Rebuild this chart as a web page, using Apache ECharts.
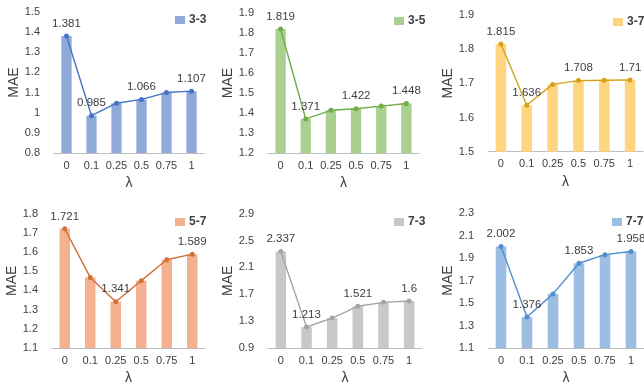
<!DOCTYPE html>
<html>
<head>
<meta charset="utf-8">
<script src="https://cdn.jsdelivr.net/npm/echarts@6/dist/echarts.min.js"></script>
<style>
  html, body { margin: 0; padding: 0; background: #fff; }
  #chart { width: 644px; height: 386px; }
</style>
</head>
<body>
<div id="chart"></div>
<script>
// λ values on the x axis
const lambdas = ['0', '0.1', '0.25', '0.5', '0.75', '1'];

// MAE per setting
const mae33 = [1.381, 0.985, 1.047, 1.066, 1.100, 1.107];
const mae35 = [1.819, 1.371, 1.414, 1.422, 1.435, 1.448];
const mae37 = [1.815, 1.636, 1.697, 1.708, 1.709, 1.71];
const mae57 = [1.721, 1.468, 1.341, 1.451, 1.560, 1.589];
const mae73 = [2.337, 1.213, 1.345, 1.521, 1.580, 1.6];
const mae77 = [2.002, 1.376, 1.581, 1.853, 1.930, 1.958];

// which points carry a value label
const labeled33 = [0, 1, 3, 5];
const labeled35 = [0, 1, 3, 5];
const labeled37 = [0, 1, 3, 5];
const labeled57 = [0, 2, 5];
const labeled73 = [0, 1, 3, 5];
const labeled77 = [0, 1, 3, 5];

const panels = [
  { name: '3-3', values: mae33, labeled: labeled33, min: 0.8, max: 1.5, step: 0.1,
    bar: '#8FA9D9', line: '#4472C4',
    grid: { left: 54, top: 12, width: 150, height: 141 }, legend: { left: 170, top: 9 } },
  { name: '3-5', values: mae35, labeled: labeled35, min: 1.2, max: 1.9, step: 0.1,
    bar: '#A9D08E', line: '#70AD47',
    grid: { left: 268, top: 12.7, width: 151, height: 140.6 }, legend: { left: 389, top: 10 } },
  { name: '3-7', values: mae37, labeled: labeled37, min: 1.5, max: 1.9, step: 0.1,
    bar: '#FFD580', line: '#D4A21A',
    grid: { left: 488, top: 15, width: 155, height: 136.7 }, legend: { left: 608, top: 11 } },
  { name: '5-7', values: mae57, labeled: labeled57, min: 1.1, max: 1.8, step: 0.1,
    bar: '#F4B18F', line: '#D2703C',
    grid: { left: 52, top: 213.7, width: 153, height: 136 }, legend: { left: 170, top: 211 } },
  { name: '7-3', values: mae73, labeled: labeled73, min: 0.9, max: 2.9, step: 0.4,
    bar: '#C8C8C8', line: '#A5A5A5',
    grid: { left: 268, top: 213.7, width: 154, height: 136 }, legend: { left: 389, top: 211 } },
  { name: '7-7', values: mae77, labeled: labeled77, min: 1.1, max: 2.3, step: 0.2,
    bar: '#9DBEE3', line: '#4F8DCB',
    grid: { left: 488, top: 213, width: 157, height: 137.3 }, legend: { left: 607, top: 211 } }
];

const FONT = '"Liberation Sans", Arial, sans-serif';
const TXT = '#404040';

const option = {
  animation: false,
  backgroundColor: '#ffffff',
  textStyle: { fontFamily: FONT },
  grid: [], xAxis: [], yAxis: [], series: [], legend: []
};

panels.forEach((p, i) => {
  option.grid.push(Object.assign({ containLabel: false }, p.grid));
  option.xAxis.push({
    type: 'category', gridIndex: i, data: lambdas,
    name: 'λ', nameLocation: 'middle', nameGap: 23,
    nameTextStyle: { fontSize: 14, color: TXT, fontFamily: FONT },
    axisLine: { lineStyle: { color: '#BFBFBF', width: 1 } },
    axisTick: { show: false },
    axisLabel: { fontSize: 11, color: TXT, margin: 7, interval: 0, fontFamily: FONT }
  });
  option.yAxis.push({
    type: 'value', gridIndex: i, min: p.min, max: p.max, interval: p.step,
    name: 'MAE', nameLocation: 'middle', nameGap: 31,
    nameTextStyle: { fontSize: 14, color: TXT, fontFamily: FONT },
    axisLine: { show: false }, axisTick: { show: false },
    splitLine: { show: false },
    axisLabel: { fontSize: 11, color: TXT, margin: 14, fontFamily: FONT,
      formatter: v => String(Math.round(v * 1000) / 1000) }
  });
  option.series.push({
    name: p.name, type: 'bar', xAxisIndex: i, yAxisIndex: i,
    data: p.values, barWidth: '41%',
    itemStyle: { color: p.bar }
  });
  option.series.push({
    name: p.name + ' line', type: 'line', xAxisIndex: i, yAxisIndex: i,
    data: p.values.map((v, k) => ({
      value: v,
      label: { show: p.labeled.indexOf(k) >= 0 }
    })),
    symbol: 'circle', symbolSize: 5,
    lineStyle: { color: p.line, width: 1.4 },
    itemStyle: { color: p.line },
    label: { show: false, position: 'top', distance: 4, fontSize: 11.5,
      color: TXT, fontFamily: FONT },
    z: 3
  });
  option.legend.push({
    data: [p.name], left: p.legend.left, top: p.legend.top,
    icon: 'rect', itemWidth: 10, itemHeight: 8, itemGap: 4,
    textStyle: { fontSize: 12, fontWeight: 'bold', color: TXT, fontFamily: FONT, padding: [0, 0, 0, -1] },
    selectedMode: false
  });
});

const chart = echarts.init(document.getElementById('chart'), null, { renderer: 'canvas' });
chart.setOption(option);
</script>
</body>
</html>
